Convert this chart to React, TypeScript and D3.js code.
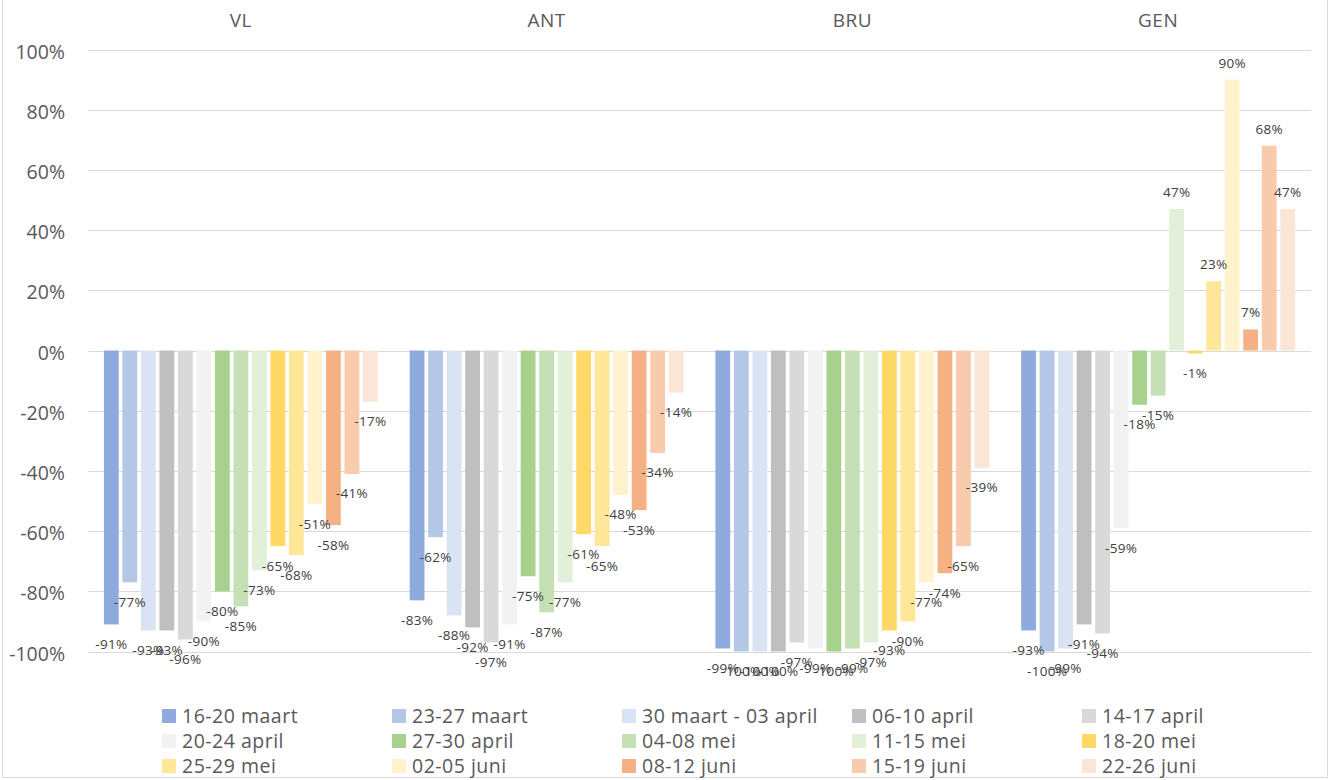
import React from "react";
import * as d3 from "d3";

const categories = ["VL", "ANT", "BRU", "GEN"];

const seriesNames = [
  "16-20 maart",
  "23-27 maart",
  "30 maart - 03 april",
  "06-10 april",
  "14-17 april",
  "20-24 april",
  "27-30 april",
  "04-08 mei",
  "11-15 mei",
  "18-20 mei",
  "25-29 mei",
  "02-05 juni",
  "08-12 juni",
  "15-19 juni",
  "22-26 juni",
];

const seriesColors = [
  "#8FAADC",
  "#B4C7E7",
  "#DAE3F3",
  "#BFBFBF",
  "#D9D9D9",
  "#F2F2F2",
  "#A9D18E",
  "#C5E0B4",
  "#E2F0D9",
  "#FFD966",
  "#FFE699",
  "#FFF2CC",
  "#F4B183",
  "#F8CBAD",
  "#FBE5D6",
];

// values per category, in series order (percent)
const vlValues = [-91, -77, -93, -93, -96, -90, -80, -85, -73, -65, -68, -51, -58, -41, -17];
const antValues = [-83, -62, -88, -92, -97, -91, -75, -87, -77, -61, -65, -48, -53, -34, -14];
const bruValues = [-99, -100, -100, -100, -97, -99, -100, -99, -97, -93, -90, -77, -74, -65, -39];
const genValues = [-93, -100, -99, -91, -94, -59, -18, -15, 47, -1, 23, 90, 7, 68, 47];

const yTicks = [100, 80, 60, 40, 20, 0, -20, -40, -60, -80, -100];

const valuesByCategory = [vlValues, antValues, bruValues, genValues];

const FONT = "'Open Sans', 'Noto Sans', sans-serif";

export default function App() {
  const W = 1334;
  const H = 780;

  const x0 = d3.scaleBand<string>().domain(categories).range([88, 1311]).paddingInner(0).paddingOuter(0);
  const x1 = d3
    .scaleBand<string>()
    .domain(seriesNames)
    .range([0, x0.bandwidth()])
    .paddingInner(0.2)
    .paddingOuter(0.86);
  const y = d3.scaleLinear().domain([-100, 100]).range([651.5, 49.5]);

  const legendCols = 5;
  const legendX0 = 162;
  const legendColStep = 230;
  const legendY0 = 709;
  const legendRowStep = 25;

  return (
    <svg
      width={W}
      height={H}
      style={{ position: "absolute", left: 0, top: 0, background: "#fff" }}
      fontFamily={FONT}
    >
      <rect x={0} y={0} width={W} height={H} fill="#fff" />
      {/* chart border */}
      <path d={`M2.5,0 V777.5 H1327.5 V0`} fill="none" stroke="#D9D9D9" strokeWidth={1} />

      {/* gridlines */}
      {yTicks.map((t) => (
        <line
          key={"g" + t}
          x1={88}
          x2={1311}
          y1={Math.round(y(t)) + 0.5}
          y2={Math.round(y(t)) + 0.5}
          stroke="#D9D9D9"
          strokeWidth={1}
        />
      ))}

      {/* y tick labels */}
      {yTicks.map((t) => (
        <text
          key={"t" + t}
          x={65}
          y={y(t) + 9}
          textAnchor="end"
          fontSize={19.5}
          fill="#595959"
        >
          {`${t}%`}
        </text>
      ))}

      {/* category titles */}
      {categories.map((c) => (
        <text
          key={"c" + c}
          x={(x0(c) as number) + x0.bandwidth() / 2}
          y={27}
          textAnchor="middle"
          fontSize={19}
          letterSpacing={0.5}
          fill="#595959"
        >
          {c}
        </text>
      ))}

      {/* bars */}
      {categories.map((c, ci) =>
        seriesNames.map((s, si) => {
          const v = valuesByCategory[ci][si];
          const bx = (x0(c) as number) + (x1(s) as number);
          const top = Math.min(y(v), y(0));
          const h = Math.abs(y(v) - y(0));
          return (
            <rect
              key={`b-${c}-${s}`}
              x={bx}
              y={top}
              width={x1.bandwidth()}
              height={Math.max(h, 0.5)}
              fill={seriesColors[si]}
            />
          );
        })
      )}

      {/* data labels */}
      {categories.map((c, ci) =>
        seriesNames.map((s, si) => {
          const v = valuesByCategory[ci][si];
          const cx = (x0(c) as number) + (x1(s) as number) + x1.bandwidth() / 2;
          const ly = v < 0 ? y(v) + 19.5 + 5 : y(v) - 17 + 5;
          return (
            <text
              key={`l-${c}-${s}`}
              x={cx}
              y={ly}
              textAnchor="middle"
              fontSize={13.5}
              letterSpacing={0.3}
              fill="#404040"
            >
              {`${v}%`}
            </text>
          );
        })
      )}

      {/* legend */}
      {seriesNames.map((s, i) => {
        const col = i % legendCols;
        const row = Math.floor(i / legendCols);
        const lx = legendX0 + col * legendColStep;
        const ly = legendY0 + row * legendRowStep;
        return (
          <g key={"lg" + s}>
            <rect x={lx} y={ly} width={14} height={14} fill={seriesColors[i]} />
            <text x={lx + 20} y={ly + 14} fontSize={19.5} letterSpacing={0.5} fill="#595959">
              {s}
            </text>
          </g>
        );
      })}
    </svg>
  );
}
